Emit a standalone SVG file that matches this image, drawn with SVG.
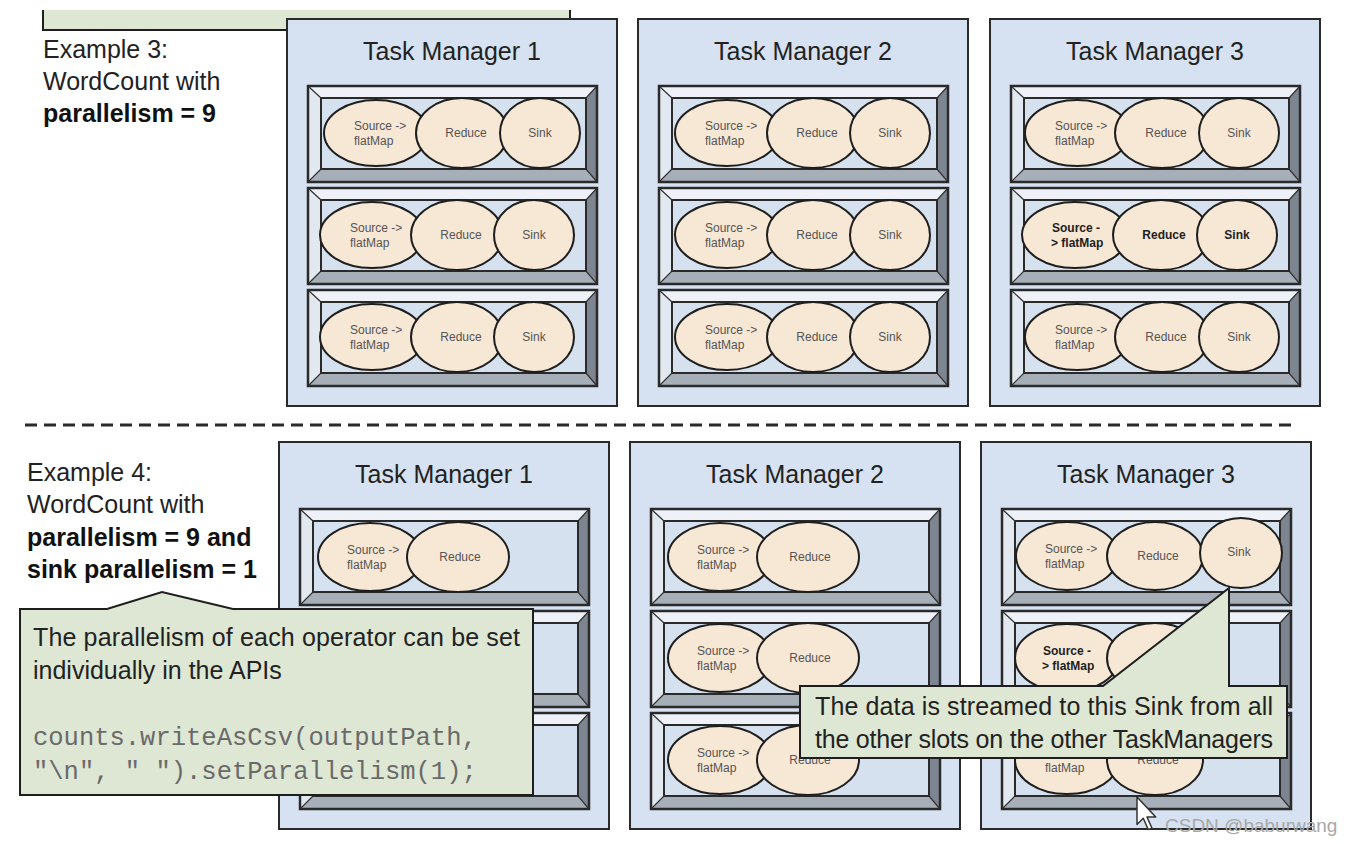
<svg xmlns="http://www.w3.org/2000/svg" xmlns:xlink="http://www.w3.org/1999/xlink" width="1356" height="844" viewBox="0 0 1356 844">
<style>
  text { font-family: "Liberation Sans", Arial, sans-serif; }
  .lbl { font-size: 25px; fill: #222; }
  .lblb { font-size: 25px; fill: #111; font-weight: bold; }
  .title { font-size: 25px; fill: #222; text-anchor: middle; }
  .tm { fill: #d6e2f1; stroke: #2a2a2a; stroke-width: 2; }
  .op { fill: #f7e7d5; stroke: #1e1e1e; stroke-width: 2; }
  .opt { font-size: 12px; fill: #555; }
  .optc { font-size: 12px; fill: #555; text-anchor: middle; }
  .optb { font-size: 12px; fill: #1e1e1e; font-weight: bold; }
  .optbc { font-size: 12px; fill: #1e1e1e; font-weight: bold; text-anchor: middle; }
  .callout { fill: #dee7d4; stroke: #1e1e1e; stroke-width: 2; }
  .ctext { font-size: 25px; fill: #222; }
  .code { font-family: "Liberation Mono", "Courier New", monospace; font-size: 25.5px; fill: #6a6a6a; }
</style>
<defs>
  <g id="slot">
    <rect x="0" y="0" width="289" height="96" fill="#c9d1db"/>
    <polygon points="0,0 289,0 278,12 13,12" fill="#eef2f8"/>
    <polygon points="0,0 13,12 13,83 0,96" fill="#e2e8f0"/>
    <polygon points="289,0 289,96 278,83 278,12" fill="#7d8591"/>
    <polygon points="0,96 13,83 278,83 289,96" fill="#a6aeb8"/>
    <path d="M0,0 L13,12 M289,0 L278,12 M0,96 L13,83 M289,96 L278,83" stroke="#333" stroke-width="1.2" fill="none"/>
    <rect x="13" y="12" width="265" height="71" fill="#d5e1ef" stroke="#2a2a2a" stroke-width="2"/>
    <rect x="0" y="0" width="289" height="96" fill="none" stroke="#2a2a2a" stroke-width="2.5"/>
  </g>
</defs>

<rect x="0" y="0" width="1356" height="844" fill="#ffffff"/>

<!-- partial callout at top-left -->
<g id="top-callout">
  <rect x="43" y="10" width="527" height="20" fill="#dee7d4"/>
  <path d="M43,10 L43,30 L570,30 L570,10" fill="none" stroke="#1e1e1e" stroke-width="2"/>
</g>

<!-- Example 3 label -->
<g id="example3-label">
  <text class="lbl" x="43" y="58">Example 3:</text>
  <text class="lbl" x="43" y="90">WordCount with</text>
  <text class="lblb" x="43" y="122">parallelism = 9</text>
</g>

<!-- Top Task Managers -->
<g id="ex3-tm1" transform="translate(287,19)">
  <rect class="tm" x="0" y="0" width="330" height="387"/>
  <text class="title" x="165" y="41">Task Manager 1</text>
  <use xlink:href="#slot" x="21" y="67"/>
  <use xlink:href="#slot" x="21" y="169"/>
  <use xlink:href="#slot" x="21" y="271"/>
  <ellipse class="op" cx="89" cy="114" rx="52" ry="33"/>
  <ellipse class="op" cx="175" cy="114" rx="46" ry="35"/>
  <ellipse class="op" cx="253" cy="114" rx="40" ry="35"/>
  <text class="opt" x="67" y="111">Source -&gt;</text><text class="opt" x="67" y="126">flatMap</text>
  <text class="optc" x="179" y="118">Reduce</text><text class="optc" x="253" y="118">Sink</text>
  <ellipse class="op" cx="85" cy="216" rx="52" ry="33"/>
  <ellipse class="op" cx="170" cy="216" rx="46" ry="35"/>
  <ellipse class="op" cx="247" cy="216" rx="40" ry="35"/>
  <text class="opt" x="63" y="213">Source -&gt;</text><text class="opt" x="63" y="228">flatMap</text>
  <text class="optc" x="174" y="220">Reduce</text><text class="optc" x="247" y="220">Sink</text>
  <ellipse class="op" cx="85" cy="318" rx="52" ry="33"/>
  <ellipse class="op" cx="170" cy="318" rx="46" ry="35"/>
  <ellipse class="op" cx="247" cy="318" rx="40" ry="35"/>
  <text class="opt" x="63" y="315">Source -&gt;</text><text class="opt" x="63" y="330">flatMap</text>
  <text class="optc" x="174" y="322">Reduce</text><text class="optc" x="247" y="322">Sink</text>
</g>

<g id="ex3-tm2" transform="translate(638,19)">
  <rect class="tm" x="0" y="0" width="330" height="387"/>
  <text class="title" x="165" y="41">Task Manager 2</text>
  <use xlink:href="#slot" x="21" y="67"/>
  <use xlink:href="#slot" x="21" y="169"/>
  <use xlink:href="#slot" x="21" y="271"/>
  <ellipse class="op" cx="89" cy="114" rx="52" ry="33"/>
  <ellipse class="op" cx="175" cy="114" rx="46" ry="35"/>
  <ellipse class="op" cx="252" cy="114" rx="40" ry="35"/>
  <text class="opt" x="67" y="111">Source -&gt;</text><text class="opt" x="67" y="126">flatMap</text>
  <text class="optc" x="179" y="118">Reduce</text><text class="optc" x="252" y="118">Sink</text>
  <ellipse class="op" cx="89" cy="216" rx="52" ry="33"/>
  <ellipse class="op" cx="175" cy="216" rx="46" ry="35"/>
  <ellipse class="op" cx="252" cy="216" rx="40" ry="35"/>
  <text class="opt" x="67" y="213">Source -&gt;</text><text class="opt" x="67" y="228">flatMap</text>
  <text class="optc" x="179" y="220">Reduce</text><text class="optc" x="252" y="220">Sink</text>
  <ellipse class="op" cx="89" cy="318" rx="52" ry="33"/>
  <ellipse class="op" cx="175" cy="318" rx="46" ry="35"/>
  <ellipse class="op" cx="252" cy="318" rx="40" ry="35"/>
  <text class="opt" x="67" y="315">Source -&gt;</text><text class="opt" x="67" y="330">flatMap</text>
  <text class="optc" x="179" y="322">Reduce</text><text class="optc" x="252" y="322">Sink</text>
</g>

<g id="ex3-tm3" transform="translate(990,19)">
  <rect class="tm" x="0" y="0" width="330" height="387"/>
  <text class="title" x="165" y="41">Task Manager 3</text>
  <use xlink:href="#slot" x="21" y="67"/>
  <use xlink:href="#slot" x="21" y="169"/>
  <use xlink:href="#slot" x="21" y="271"/>
  <ellipse class="op" cx="87" cy="114" rx="52" ry="33"/>
  <ellipse class="op" cx="172" cy="114" rx="47" ry="35"/>
  <ellipse class="op" cx="249" cy="114" rx="40" ry="35"/>
  <text class="opt" x="65" y="111">Source -&gt;</text><text class="opt" x="65" y="126">flatMap</text>
  <text class="optc" x="176" y="118">Reduce</text><text class="optc" x="249" y="118">Sink</text>
  <ellipse class="op" cx="85" cy="216" rx="53" ry="33"/>
  <ellipse class="op" cx="171" cy="216" rx="48" ry="35"/>
  <ellipse class="op" cx="247" cy="216" rx="40" ry="35"/>
  <text class="optb" x="62" y="213">Source -</text><text class="optb" x="61" y="228">&gt; flatMap</text>
  <text class="optbc" x="174" y="220">Reduce</text><text class="optbc" x="247" y="220">Sink</text>
  <ellipse class="op" cx="87" cy="318" rx="52" ry="33"/>
  <ellipse class="op" cx="172" cy="318" rx="47" ry="35"/>
  <ellipse class="op" cx="249" cy="318" rx="40" ry="35"/>
  <text class="opt" x="65" y="315">Source -&gt;</text><text class="opt" x="65" y="330">flatMap</text>
  <text class="optc" x="176" y="322">Reduce</text><text class="optc" x="249" y="322">Sink</text>
</g>

<!-- separator -->
<g id="separator">
  <line x1="25" y1="425" x2="1295" y2="425" stroke="#2a2a2a" stroke-width="3" stroke-dasharray="12 7"/>
</g>

<!-- Example 4 label -->
<g id="example4-label">
  <text class="lbl" x="27" y="481">Example 4:</text>
  <text class="lbl" x="27" y="513">WordCount with</text>
  <text class="lblb" x="27" y="546">parallelism = 9 and</text>
  <text class="lblb" x="27" y="578">sink parallelism = 1</text>
</g>

<!-- Bottom Task Managers -->
<g id="ex4-tm1" transform="translate(279,442)">
  <rect class="tm" x="0" y="0" width="330" height="387"/>
  <text class="title" x="165" y="41">Task Manager 1</text>
  <use xlink:href="#slot" x="21" y="67"/>
  <use xlink:href="#slot" x="21" y="169"/>
  <use xlink:href="#slot" x="21" y="271"/>
  <ellipse class="op" cx="91" cy="115" rx="52" ry="34"/>
  <ellipse class="op" cx="179" cy="115" rx="51" ry="35"/>
  <text class="opt" x="68" y="112">Source -&gt;</text><text class="opt" x="68" y="127">flatMap</text>
  <text class="optc" x="181" y="119">Reduce</text>
</g>

<g id="ex4-tm2" transform="translate(630,442)">
  <rect class="tm" x="0" y="0" width="330" height="387"/>
  <text class="title" x="165" y="41">Task Manager 2</text>
  <use xlink:href="#slot" x="21" y="67"/>
  <use xlink:href="#slot" x="21" y="169"/>
  <use xlink:href="#slot" x="21" y="271"/>
  <ellipse class="op" cx="90" cy="115" rx="52" ry="34"/>
  <ellipse class="op" cx="178" cy="115" rx="51" ry="35"/>
  <text class="opt" x="67" y="112">Source -&gt;</text><text class="opt" x="67" y="127">flatMap</text>
  <text class="optc" x="180" y="119">Reduce</text>
  <ellipse class="op" cx="90" cy="216" rx="52" ry="34"/>
  <ellipse class="op" cx="178" cy="216" rx="51" ry="35"/>
  <text class="opt" x="67" y="213">Source -&gt;</text><text class="opt" x="67" y="228">flatMap</text>
  <text class="optc" x="180" y="220">Reduce</text>
  <ellipse class="op" cx="90" cy="318" rx="52" ry="34"/>
  <ellipse class="op" cx="178" cy="318" rx="51" ry="35"/>
  <text class="opt" x="67" y="315">Source -&gt;</text><text class="opt" x="67" y="330">flatMap</text>
  <text class="optc" x="180" y="322">Reduce</text>
</g>

<g id="ex4-tm3" transform="translate(981,442)">
  <rect class="tm" x="0" y="0" width="330" height="387"/>
  <text class="title" x="165" y="41">Task Manager 3</text>
  <use xlink:href="#slot" x="21" y="67"/>
  <use xlink:href="#slot" x="21" y="169"/>
  <use xlink:href="#slot" x="21" y="271"/>
  <ellipse class="op" cx="86" cy="114" rx="51" ry="34"/>
  <ellipse class="op" cx="174" cy="114" rx="48" ry="34"/>
  <ellipse class="op" cx="260" cy="111" rx="41" ry="35"/>
  <text class="opt" x="64" y="111">Source -&gt;</text><text class="opt" x="64" y="126">flatMap</text>
  <text class="optc" x="177" y="118">Reduce</text><text class="optc" x="258" y="114">Sink</text>
  <ellipse class="op" cx="86" cy="216" rx="52" ry="34"/>
  <ellipse class="op" cx="174" cy="216" rx="48" ry="35"/>
  <text class="optb" x="62" y="213">Source -</text><text class="optb" x="61" y="228">&gt; flatMap</text>
  <ellipse class="op" cx="86" cy="318" rx="52" ry="34"/>
  <ellipse class="op" cx="174" cy="318" rx="48" ry="35"/>
  <text class="opt" x="64" y="330">flatMap</text>
  <text class="optc" x="177" y="322">Reduce</text>
</g>

<g id="connectors"></g>

<!-- Callout 1 -->
<g id="callout-api">
  <path class="callout" d="M20,609 L107,609 L162,592 L233,609 L533,609 L533,795 L20,795 Z"/>
  <text class="ctext" x="33" y="646" textLength="487">The parallelism of each operator can be set</text>
  <text class="ctext" x="33" y="679">individually in the APIs</text>
  <text class="code" x="33" y="745">counts.writeAsCsv(outputPath,</text>
  <text class="code" x="33" y="779">"\n", " ").setParallelism(1);</text>
</g>

<!-- Callout 2 -->
<g id="callout-sink">
  <path class="callout" d="M800,686 L1103,686 L1229,588 L1229,686 L1287,686 L1287,758 L800,758 Z"/>
  <text class="ctext" x="815" y="715" textLength="458">The data is streamed to this Sink from all</text>
  <text class="ctext" x="815" y="748" textLength="458">the other slots on the other TaskManagers</text>
</g>

<!-- cursor and watermark -->
<g id="cursor" transform="translate(1137,797) scale(1.25)">
  <polygon points="0,0 0,22 5,17 9,26 12,25 8,16 15,16" fill="#ffffff" stroke="#333" stroke-width="1.2" stroke-linejoin="round"/>
</g>
<g id="watermark">
  <text x="1165" y="832" font-size="19" fill="#a8a8a8">CSDN @baburwang</text>
</g>
</svg>
